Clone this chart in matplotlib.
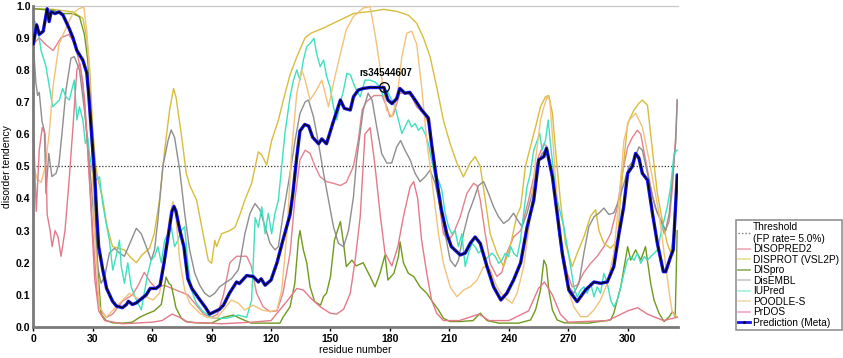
import matplotlib
matplotlib.use("Agg")
import matplotlib.pyplot as plt
from matplotlib.lines import Line2D
import numpy as np

plt.rcParams["font.family"] = ["Liberation Sans", "DejaVu Sans"]

# ── Data (residue, disorder tendency) ─────────────────────────────────────────

DISOPRED2 = [(0, .88), (3, .9), (6, .88), (10, .86), (14, .9), (18, .91), (21, .88), (24, .8), (26, .7),
             (28, .5), (30, .3), (32, .12), (34, .05), (37, .03), (40, .04), (45, .08), (50, .1), (53, .13),
             (56, .17), (59, .14), (62, .12), (66, .13), (70, .12), (74, .11), (78, .1), (82, .07), (86, .04),
             (90, .03), (93, .04), (96, .1), (99.2, .2), (102.6, .22), (107.7, .22), (110, .19), (112.7, .105),
             (116, .063), (119.5, .048), (123, .05), (126, .105), (129.6, .23), (132, .395), (134.6, .52),
             (137.2, .55), (139.7, .54), (142.2, .5), (144.8, .467), (148, .452), (151.5, .447), (155, .44),
             (158, .45), (161.6, .5), (164, .58), (166, .675), (168, .7), (172, .72), (176, .72), (178.4, .685),
             (180, .654), (181.7, .66), (185, .727), (188.5, .73), (191, .716), (193.5, .685), (197, .665),
             (200.3, .623), (202.8, .5), (204.5, .4), (207, .29), (209.6, .27), (212, .29), (215.5, .343),
             (218.8, .415), (222.2, .447), (223.9, .44), (225.6, .395), (228.1, .29), (230.6, .198), (234, .157),
             (236.5, .17), (239, .23), (242.4, .28), (246, .3), (250, .395), (252.6, .467), (255, .53),
             (257.7, .57), (259.4, .56), (262, .467), (264.4, .354), (267, .24), (269.5, .167), (272, .125),
             (274.5, .13), (277.9, .17), (281.3, .198), (284.6, .22), (288, .25), (291.4, .29), (294.8, .374),
             (297.3, .478), (300, .56), (302.4, .59), (304.9, .612), (306.6, .6), (309, .52), (311.6, .436),
             (314, .37), (316.7, .333), (318.4, .29), (321, .33), (322.6, .436), (324.3, .6), (325, .706)]

DISPROT = [(0, .99), (10, .988), (20, .98), (25, .96), (27, .9), (28.5, .8), (30, .62), (31.5, .5), (33, .45),
           (35, .4), (37, .32), (40, .25), (43, .245), (46, .24), (48.6, .22), (52, .2), (55, .225), (58.7, .245),
           (61, .29), (63.7, .395), (66.3, .55), (68.8, .675), (70.8, .742), (72, .716), (74.7, .6), (77.2, .478),
           (79, .44), (82.4, .395), (85.7, .29), (88.3, .208), (90, .198), (91.6, .27), (92.5, .25), (95, .29),
           (99.2, .3), (101.8, .31), (104.3, .35), (106.8, .395), (110.2, .447), (113.6, .545), (115.3, .535),
           (117.8, .504), (120.3, .58), (123.7, .643), (126.2, .706), (129.6, .785), (133, .84), (137.2, .9),
           (140.5, .915), (146.5, .93), (151.5, .945), (156.6, .96), (161.6, .975), (165, .978), (170, .981),
           (176.7, .988), (183.4, .982), (189.3, .97), (193.5, .945), (196.9, .9), (200.3, .84), (203.6, .747),
           (207, .643), (210.4, .57), (213.8, .51), (217.1, .467), (220.5, .51), (223, .53), (225.6, .5),
           (228.1, .395), (230.6, .29), (234, .23), (237.4, .188), (240.7, .25), (244, .345), (246, .374),
           (248.4, .5), (250.9, .56), (253.5, .622), (256, .685), (258.5, .716), (260.2, .72), (262, .665),
           (263.6, .55), (266, .395), (268.6, .26), (272, .188), (274.5, .229), (277.9, .28), (281.3, .345),
           (283.8, .365), (285.5, .3), (288, .26), (291.4, .245), (294.8, .27), (297.3, .47), (300, .634),
           (303.2, .675), (305.7, .696), (307.4, .706), (310, .69), (312.5, .55), (315, .415), (317.5, .33),
           (320, .26), (321.7, .23), (323.4, .3), (325, .44)]

DISPRO = [(0, .99), (10, .985), (15, .975), (20, .975), (23.3, .965), (25.8, .91), (27.5, .83), (29.2, .65),
          (30.9, .395), (32.5, .19), (34.2, .04), (36.8, .02), (40, .013), (45, .012), (50, .015), (53.6, .03),
          (57, .04), (61, .05), (64.6, .07), (67, .155), (68.5, .135), (69.6, .13), (70.5, .105), (72, .06),
          (74.7, .027), (77, .017), (82, .013), (90, .012), (96, .03), (101, .037), (104, .028), (110, .012),
          (124.5, .012), (126, .03), (129.6, .063), (132, .136), (133.8, .27), (134.6, .3), (136.3, .24),
          (138, .2), (139.7, .125), (142, .079), (145, .068), (146.5, .095), (148, .105), (150, .157),
          (152, .27), (155, .328), (156.6, .26), (158, .188), (160.8, .208), (163, .19), (166.5, .2),
          (170, .157), (172.5, .125), (175, .167), (177.5, .224), (179, .146), (182, .167), (184.3, .219),
          (185.1, .265), (186.8, .2), (189.3, .167), (192, .157), (195.2, .125), (198.6, .105), (202, .074),
          (204.5, .053), (207, .027), (210.4, .017), (215.5, .017), (222, .02), (225.6, .043), (229, .02),
          (235, .012), (245, .012), (251, .022), (253.5, .053), (256, .115), (257.7, .208), (259, .19),
          (260.2, .115), (262, .053), (264.4, .022), (268, .013), (280, .012), (291.4, .022), (293, .043),
          (296.5, .125), (300, .25), (301.5, .208), (304, .24), (306.6, .208), (309, .25), (311.6, .136),
          (313.3, .084), (315.8, .043), (318.4, .017), (321, .032), (322.6, .048), (324, .032), (325, .3)]

DISEMBL = [(0, .88), (1.3, .76), (2.2, .72), (3, .73), (4.4, .64), (5.6, .61), (6.4, .415), (7.8, .54),
           (9.4, .468), (11.5, .478), (13, .51), (14.8, .623), (16.5, .737), (19, .836), (20.7, .841),
           (23.3, .8), (25.8, .675), (27.5, .57), (29.2, .447), (30.9, .312), (32.5, .188), (34.2, .136),
           (36, .157), (38.4, .23), (41, .245), (43.5, .23), (46, .22), (49.4, .27), (52, .307), (54.5, .29),
           (57, .25), (59.5, .208), (61.2, .24), (62.9, .333), (65.4, .5), (68, .58), (69.6, .613), (71.3, .59),
           (73.9, .488), (76.4, .354), (78.9, .24), (81.5, .167), (84, .13), (86.5, .105), (89, .094),
           (91.6, .105), (94, .125), (97.5, .14), (100, .15), (103.4, .177), (104.3, .2), (106.8, .29),
           (109.4, .354), (111.9, .384), (114.4, .364), (117, .312), (119.5, .26), (122, .24), (123.7, .25),
           (126.2, .354), (129.6, .478), (132.1, .58), (134.6, .664), (137.2, .7), (138.9, .706), (141.4, .654),
           (144, .57), (146.5, .478), (149, .395), (151.5, .312), (154, .26), (156.6, .25), (159.1, .3),
           (161.6, .405), (163.2, .52), (166.5, .675), (169, .727), (171, .706), (173.3, .623), (175.8, .54),
           (178.4, .51), (180.9, .51), (183.4, .56), (185.4, .58), (187.6, .55), (190.2, .52), (192.7, .478),
           (195.2, .452), (197.7, .467), (200.3, .488), (202.8, .447), (205.3, .374), (207.9, .29),
           (210.4, .208), (213, .188), (214.6, .208), (217.1, .29), (219.7, .354), (222.2, .395), (224.7, .44),
           (227.3, .452), (229.8, .415), (232.3, .374), (234.8, .343), (237.4, .322), (239.9, .333),
           (242.4, .354), (244.2, .335), (246.7, .312), (249.2, .354), (251.8, .415), (254.3, .5), (256.8, .54),
           (258.5, .55), (260.2, .53), (262.7, .457), (265.3, .29), (267.8, .188), (270.3, .125), (272.8, .105),
           (275.4, .136), (277.9, .23), (280.4, .312), (283, .343), (285.5, .354), (288, .37), (290.5, .35),
           (293, .355), (295.6, .395), (298.1, .447), (300.7, .5), (303.2, .52), (305.7, .56), (307.4, .55),
           (310, .478), (312.5, .405), (315, .354), (317.5, .322), (319.2, .3), (321, .354), (322.6, .467),
           (324.3, .58), (325, .706)]

IUPRED = [(0, .96), (2.2, .934), (3.9, .86), (6.4, .81), (8.1, .748), (9.8, .685), (11.5, .696), (13.2, .706),
          (14.8, .742), (16.5, .715), (18.2, .706), (19.9, .75), (20.7, .768), (22, .644), (23.3, .685),
          (25, .644), (26.3, .571), (27.5, .59), (28.3, .54), (30, .478), (31.7, .457), (33.4, .467), (35, .385),
          (36.8, .322), (38.4, .27), (40.1, .177), (41.8, .22), (43.5, .27), (44.4, .188), (46, .136),
          (47.7, .2), (49.4, .125), (52, .084), (54.5, .053), (56, .105), (57.8, .167), (59.5, .208),
          (61.2, .22), (62.9, .25), (64.6, .2), (66.3, .27), (68, .29), (69.6, .312), (71.3, .25), (73, .27),
          (74.7, .3), (76.4, .312), (78, .198), (79.8, .115), (82.3, .074), (85.7, .048), (90.7, .027),
          (97.5, .027), (103.4, .037), (107.7, .03), (110.2, .084), (111, .2), (112, .34), (113.6, .31),
          (115.3, .374), (117, .29), (118.6, .354), (120.3, .29), (122, .354), (123.7, .395), (125.4, .5),
          (127, .602), (129.6, .716), (131.3, .768), (133, .8), (134.6, .768), (136.3, .83), (138, .872),
          (139.7, .882), (141.7, .898), (143, .85), (144.8, .81), (146.5, .83), (148.1, .778), (149.8, .747),
          (151.5, .685), (153.2, .644), (154.9, .696), (156.6, .737), (158.3, .789), (160, .785),
          (162.3, .747), (165, .716), (167.4, .768), (170, .768), (172.5, .762), (175, .747), (176.7, .716),
          (178.4, .737), (180.9, .706), (182.6, .685), (184.3, .644), (186, .602), (187.6, .622),
          (189.3, .644), (191, .622), (192.7, .633), (194.4, .612), (196, .622), (197.7, .602), (199.4, .57),
          (201, .52), (202.8, .467), (204.5, .457), (206.2, .426), (207.9, .354), (209.6, .312), (211.2, .29),
          (212.9, .3), (214.6, .25), (216.3, .29), (218, .188), (219.7, .23), (221.4, .26), (223, .25),
          (224.7, .23), (226.4, .24), (228.1, .21), (229.8, .219), (231.5, .23), (233.2, .219), (234.9, .198),
          (236.5, .208), (238.2, .229), (239.9, .219), (241, .25), (242.5, .229), (244.2, .219), (245.9, .27),
          (247.5, .354), (249.2, .436), (250.9, .478), (252.6, .55), (254.3, .58), (255.6, .602), (256.8, .55),
          (258.5, .58), (259.9, .644), (261, .572), (262.7, .478), (264.4, .395), (266.1, .354), (267.8, .312),
          (269.5, .25), (271.2, .188), (272.8, .125), (274.5, .094), (276.2, .115), (277.9, .125),
          (279.6, .105), (281.3, .136), (283, .094), (284.6, .125), (286.3, .105), (288, .167), (289.7, .136),
          (291.4, .084), (293, .063), (294.8, .084), (296.5, .125), (298.1, .167), (299.8, .208),
          (301.5, .219), (303.2, .208), (304.9, .229), (306.6, .198), (308.3, .219), (309.9, .208),
          (311.6, .219), (313.3, .229), (315, .24), (316.7, .29), (318.4, .333), (320, .374), (321.7, .436),
          (323.4, .54), (325, .55)]

POODLE_S = [(0, .5), (2, .46), (4, .45), (6, .5), (8, .6), (10, .75), (13, .88), (16.5, .93), (20, .975),
            (23, .99), (25.5, .995), (27, .92), (28.3, .8), (29.5, .55), (31, .29), (33.4, .063), (36.8, .03),
            (41.8, .063), (48.6, .105), (53.6, .085), (57, .094), (60.4, .084), (63.7, .105), (66.3, .198),
            (68.8, .343), (70.5, .39), (71.8, .355), (73.9, .208), (76.4, .115), (79, .074), (84, .043),
            (87.4, .03), (92.5, .027), (96, .053), (100, .084), (103.5, .074), (106.8, .053), (111, .068),
            (115.3, .053), (119.5, .048), (123, .053), (125.4, .115), (128, .29), (130.4, .55), (133, .727),
            (135.5, .8), (137.2, .768), (139.7, .706), (143, .737), (145.6, .768), (147.3, .727), (149, .685),
            (151.5, .758), (155, .85), (158, .925), (161.6, .966), (166.5, .992), (170, .997), (172.5, .91),
            (175, .81), (178.3, .675), (181, .654), (183.4, .706), (186, .84), (188.5, .914), (191, .92),
            (193.5, .88), (196, .747), (198.6, .58), (202, .415), (204.5, .29), (207, .198), (210.4, .125),
            (213.8, .094), (217.1, .115), (220.5, .125), (224, .146), (227.3, .188), (230.6, .178), (234, .125),
            (237.4, .094), (241.6, .074), (244.2, .105), (247.5, .188), (250.9, .343), (253.5, .52), (256, .643),
            (257.7, .685), (259.4, .716), (260.7, .705), (262.7, .54), (264.4, .395), (267, .23), (269.5, .125),
            (272.8, .063), (276.2, .032), (279.6, .032), (283, .053), (286.3, .084), (289.7, .136), (293, .23),
            (295.6, .395), (298.1, .58), (300.7, .643), (304, .665), (307.4, .622), (310.8, .52), (313.3, .436),
            (315.8, .354), (318.4, .23), (321, .105), (322.6, .043), (325, .032)]

PRDOS = [(0, .63), (1.5, .36), (3, .55), (4.5, .62), (6, .6), (7, .35), (8.5, .3), (9.5, .25), (11, .3),
         (12.5, .28), (14, .22), (16, .3), (18, .45), (20, .62), (22, .8), (23.5, .82), (25, .76), (27, .6),
         (29, .38), (31, .15), (33, .05), (36, .02), (45, .01), (60, .015), (65, .02), (70, .04), (74, .03),
         (78, .015), (95, .01), (110, .015), (120, .02), (128, .08), (133, .12), (136.3, .115), (140, .09),
         (144.8, .063), (149.8, .043), (153, .04), (156.6, .055), (160, .105), (162.5, .21), (165, .343),
         (167.4, .6), (170, .62), (172.5, .5), (175, .354), (177.5, .23), (181, .19), (184, .25), (186.8, .343),
         (190.2, .436), (192, .452), (194, .4), (196, .27), (198.6, .167), (201, .084), (203.6, .043),
         (207, .02), (215, .02), (225, .04), (230, .02), (240, .02), (250, .05), (255, .12), (258, .14),
         (262, .1), (266, .04), (270, .015), (290, .02), (300, .05), (305, .06), (310, .04), (318, .02),
         (325, .03)]

META = [(0, .88), (1.7, .94), (3, .91), (5, .92), (7, .99), (8, .95), (9, .98), (11, .975), (13, .98), (15, .97),
        (18, .93), (20, .9), (22, .86), (25, .83), (27, .79), (28, .72), (30, .55), (31, .47), (32, .35),
        (33, .25), (35, .18), (37, .12), (40, .08), (42, .065), (45, .06), (47, .07), (48, .08), (50, .07),
        (52, .075), (55, .09), (57, .1), (59, .12), (62, .12), (64, .13), (66, .2), (68, .28), (70, .36),
        (71, .375), (72, .36), (74, .3), (76, .25), (78, .15), (80, .12), (84, .085), (87, .06), (89, .04),
        (91.6, .048), (94, .055), (96, .068), (99, .105), (102.6, .14), (104, .135), (107.7, .16), (111, .157),
        (113.6, .14), (115, .15), (117, .13), (120, .146), (123, .2), (126, .27), (129.6, .35), (131, .415),
        (133, .53), (134.6, .61), (137, .63), (139, .625), (141, .59), (144, .57), (145.6, .585), (148, .57),
        (151.5, .64), (155, .706), (157, .68), (160, .675), (161.6, .716), (164, .737), (166.5, .742),
        (170, .745), (173.3, .745), (177, .745), (179, .706), (181, .695), (183.4, .71), (185, .742),
        (187.6, .727), (190, .73), (192.7, .706), (196, .675), (199.4, .65), (201, .57), (203.6, .457),
        (206, .364), (208.7, .29), (211, .25), (215.5, .224), (218, .23), (220.5, .26), (223, .28),
        (225.6, .26), (229, .188), (232.3, .125), (236, .084), (239, .105), (242.4, .146), (246, .2),
        (249.2, .31), (252.6, .395), (255.1, .52), (257.7, .53), (259, .556), (262, .468), (264.4, .354),
        (267, .229), (270.3, .115), (274.5, .079), (278.7, .115), (283, .14), (286.3, .136), (289.7, .14),
        (293, .188), (295.6, .29), (298, .374), (300, .478), (302.4, .5), (304, .54), (305.7, .525),
        (307.4, .478), (310, .457), (312.5, .354), (315, .26), (318, .172), (319.2, .172), (321.7, .219),
        (323, .24), (324.3, .395), (325, .473)]

THRESHOLD = 0.5
SNP_LABEL = "rs34544607"
SNP_POS = (177, 0.745)

# ── Plot ──────────────────────────────────────────────────────────────────────

fig = plt.figure(figsize=(8.43, 3.58), dpi=100)
ax = fig.add_axes([0.0395, 0.0866, 0.765, 0.898])

series = [
    (DISOPRED2, "#e3838c"),
    (DISPROT,   "#d8bd3c"),
    (DISPRO,    "#6f9a1c"),
    (DISEMBL,   "#8e8e8e"),
    (IUPRED,    "#3fe0bf"),
    (POODLE_S,  "#f2c27a"),
    (PRDOS,     "#e3798a"),
]
for pts, col in series:
    x, y = np.array(pts).T
    ax.plot(x, y, color=col, lw=1.0, zorder=2)

# meta prediction: thick blue with a thin black core
mx, my = np.array(META).T
ax.plot(mx, my, color="#1414e6", lw=2.4, zorder=3, solid_capstyle="round")
ax.plot(mx, my, color="#000000", lw=0.8, zorder=4)

ax.axhline(THRESHOLD, color="#333333", lw=0.9, ls=(0, (1, 1.5)), zorder=1)
ax.axhline(1.0, color="#c8c8c8", lw=0.9, zorder=1, clip_on=False)

ax.plot(*SNP_POS, marker="o", ms=7, mfc="none", mec="black", mew=0.9, zorder=5)
ax.annotate(SNP_LABEL, xy=SNP_POS, xytext=(SNP_POS[0] + 1, 0.79), ha="center", va="center",
            fontsize=7, fontweight="bold")

ax.set_xlim(0, 325.5)
ax.set_ylim(0, 1.0)
ax.set_xticks(range(0, 301, 30))
ax.set_yticks(np.round(np.arange(0, 1.01, 0.1), 1))
ax.set_yticklabels([f"{v:.1f}" for v in np.arange(0, 1.01, 0.1)])
ax.tick_params(axis="both", labelsize=7.5, colors="black", length=3, width=1, pad=2)
ax.tick_params(axis="y", length=0)
for lab in ax.get_xticklabels() + ax.get_yticklabels():
    lab.set_fontweight("bold")

for s in ("top", "right"):
    ax.spines[s].set_visible(False)
for s in ("left", "bottom"):
    ax.spines[s].set_color("#7a7a7a")
    ax.spines[s].set_linewidth(2)

ax.set_xlabel("residue number", fontsize=7.5, labelpad=1)
ax.set_ylabel("disorder tendency", fontsize=7.5, labelpad=3)

handles = [
    Line2D([], [], color="#777777", lw=1, ls=(0, (1, 1.5))),
    Line2D([], [], color="#f2a6b4", lw=1.2),
    Line2D([], [], color="#e8e08a", lw=1.2),
    Line2D([], [], color="#8fb05a", lw=1.2),
    Line2D([], [], color="#c8c8c8", lw=1.2),
    Line2D([], [], color="#9ff0dc", lw=1.2),
    Line2D([], [], color="#f4dcae", lw=1.2),
    Line2D([], [], color="#f2a6c8", lw=1.2),
    Line2D([], [], color="#1414e6", lw=2, marker=".", ms=2, mfc="black", mec="black"),
]
labels = ["Threshold\n(FP rate= 5.0%)", "DISOPRED2", "DISPROT (VSL2P)", "DISpro", "DisEMBL",
          "IUPred", "POODLE-S", "PrDOS", "Prediction (Meta)"]
leg = fig.legend(handles, labels, loc="lower left", bbox_to_anchor=(0.873, 0.077),
                 fontsize=7.3, handlelength=1.1, handletextpad=0.35, labelspacing=0.05,
                 borderpad=0.25, borderaxespad=0, frameon=True, fancybox=False)
leg.get_frame().set_edgecolor("#777777")
leg.get_frame().set_linewidth(1.2)

fig.savefig("out.png", dpi=100)
